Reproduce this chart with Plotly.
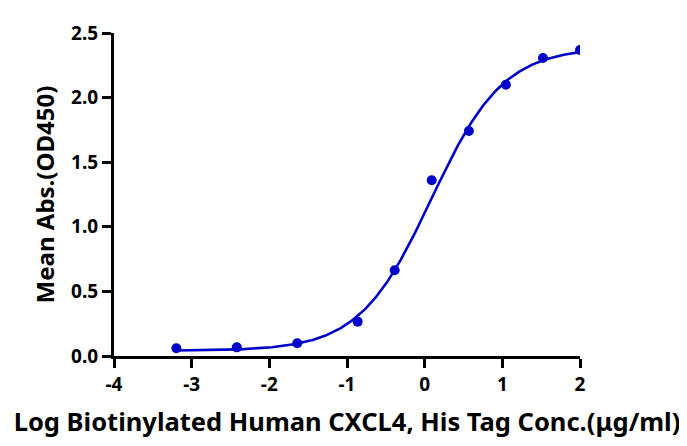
import numpy as np
import plotly.graph_objects as go

log_conc = [-3.197, -2.419, -1.641, -0.863, -0.386, 0.091, 0.569, 1.046, 1.523, 2.0]
mean_abs = [0.06, 0.067, 0.099, 0.266, 0.664, 1.36, 1.741, 2.10, 2.306, 2.368]

# 4PL fit parameters
bottom, top, log_ec50, hill = 0.04, 2.39, 0.086, 0.935

x_fit = np.linspace(min(log_conc), max(log_conc), 300)
y_fit = bottom + (top - bottom) / (1 + 10 ** ((log_ec50 - x_fit) * hill))

x_ticks = [-4, -3, -2, -1, 0, 1, 2]
y_ticks = [0.0, 0.5, 1.0, 1.5, 2.0, 2.5]

blue = "#0000C8"
font_family = "'Noto Sans', sans-serif"

fig = go.Figure()
fig.add_trace(go.Scatter(x=x_fit, y=y_fit, mode="lines",
                         line=dict(color=blue, width=2.6), hoverinfo="skip", showlegend=False))
fig.add_trace(go.Scatter(x=log_conc, y=mean_abs, mode="markers",
                         marker=dict(color=blue, size=10), showlegend=False))

fig.update_layout(
    width=687, height=446,
    margin=dict(l=105.5, r=115, t=14, b=97.5),
    paper_bgcolor="white", plot_bgcolor="white",
    font=dict(family=font_family, color="black"),
    xaxis=dict(
        range=[-4, 2], tickvals=x_ticks, ticktext=["<b>%d</b>" % v for v in x_ticks],
        showline=True, linecolor="black", linewidth=3,
        ticks="outside", ticklen=9, tickwidth=3, tickcolor="black",
        showgrid=False, zeroline=False,
        tickfont=dict(size=19, family=font_family),
        title=dict(text="<b>Log Biotinylated Human CXCL4, His Tag Conc.(μg/ml)</b>",
                   font=dict(size=25.5, family=font_family), standoff=18),
    ),
    yaxis=dict(
        range=[0, 2.5], tickvals=y_ticks, ticktext=["<b>%.1f</b>" % v for v in y_ticks],
        showline=True, linecolor="black", linewidth=3,
        ticks="outside", ticklen=9, tickwidth=3, tickcolor="black",
        showgrid=False, zeroline=False,
        tickfont=dict(size=19, family=font_family),
        title=dict(text="<b>Mean Abs.(OD450)</b>",
                   font=dict(size=24, family=font_family), standoff=10),
    ),
)

fig.write_html("out.html")
